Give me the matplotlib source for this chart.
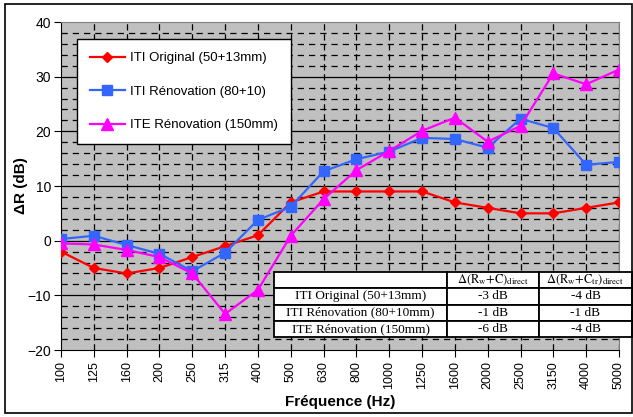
import matplotlib.pyplot as plt
import numpy as np
from matplotlib.patches import Rectangle
from matplotlib.lines import Line2D

plt.rcParams["font.family"] = ["Liberation Sans", "DejaVu Sans"]
plt.rcParams["mathtext.fontset"] = "stix"

freqs = ["100", "125", "160", "200", "250", "315", "400", "500", "630", "800",
         "1000", "1250", "1600", "2000", "2500", "3150", "4000", "5000"]
iti_original = [-2, -5, -6, -5, -3, -1, 1, 7, 9, 9, 9, 9, 7, 6, 5, 5, 6, 7]
iti_renovation = [0.3, 0.9, -0.8, -2.4, -5.6, -2.2, 3.8, 6.2, 12.7, 14.9,
                  16.3, 18.8, 18.6, 17.0, 22.3, 20.6, 13.9, 14.4]
ite_renovation = [-0.5, -0.7, -1.7, -3.0, -6.0, -13.4, -9.0, 0.9, 7.6, 12.9,
                  16.4, 20.1, 22.5, 18.1, 21.0, 30.6, 28.6, 31.3]
series_labels = ["ITI Original (50+13mm)", "ITI Rénovation (80+10)", "ITE Rénovation (150mm)"]

table_rows = ["ITI Original (50+13mm)", "ITI Rénovation (80+10mm)", "ITE Rénovation (150mm)"]
table_cols = [r"$\Delta(\mathrm{R_w{+}C})_{\mathrm{direct}}$",
              r"$\Delta(\mathrm{R_w{+}C_{tr}})_{\mathrm{direct}}$"]
table_vals = [["-3 dB", "-4 dB"], ["-1 dB", "-1 dB"], ["-6 dB", "-4 dB"]]

W, H = 633, 417
fig = plt.figure(figsize=(W / 100, H / 100), dpi=100, facecolor="white")
L, R, T, B = 61, 619, 22, 350
ax = fig.add_axes([L / W, 1 - B / H, (R - L) / W, (B - T) / H])
ax.set_facecolor("#C0C0C0")

x = np.arange(len(freqs))

# grid: dashed minor every 2 dB + per category, solid at majors
for yv in np.arange(-18, 40, 2):
    if yv % 10 == 0:
        ax.axhline(yv, color="black", lw=0.9, zorder=1)
    else:
        ax.axhline(yv, color="black", lw=0.9, ls=(0, (5, 4)), zorder=1)
for xv in x[1:]:
    ax.axvline(xv, color="black", lw=0.9, ls=(0, (5, 3)), zorder=1)

ax.plot(x, iti_original, color="#FF0000", lw=1.6, marker="D", ms=5.5, zorder=3)
ax.plot(x, iti_renovation, color="#3366FF", lw=1.6, marker="s", ms=7.5, zorder=3)
ax.plot(x, ite_renovation, color="#FF00FF", lw=1.6, marker="^", ms=8, zorder=4)

ax.set_xlim(0, len(freqs) - 1)
ax.set_ylim(-20, 40)
ax.set_xticks(x, freqs, rotation=90, fontsize=9)
ax.set_yticks(np.arange(-20, 41, 10))
ax.tick_params(axis="y", labelsize=10, length=5, direction="out", pad=2)
ax.tick_params(axis="x", length=5, direction="out", pad=3)
for s in ["top", "right"]:
    ax.spines[s].set_color("#808080")
for s in ["left", "bottom"]:
    ax.spines[s].set_color("black")

ax.set_ylabel("ΔR (dB)", fontsize=11, fontweight="bold", labelpad=0)
ax.set_xlabel("Fréquence (Hz)", fontsize=11, fontweight="bold", labelpad=4)

# legend
handles = [
    Line2D([], [], color="#FF0000", lw=1.6, marker="D", ms=5.5),
    Line2D([], [], color="#3366FF", lw=1.6, marker="s", ms=7.5),
    Line2D([], [], color="#FF00FF", lw=1.6, marker="^", ms=8),
]
leg = ax.legend(handles, series_labels, loc="upper left",
                bbox_to_anchor=((77 - L) / (R - L), 1 - (39 - T) / (B - T)),
                fontsize=9.5, frameon=True, fancybox=False, edgecolor="black",
                framealpha=1, labelspacing=1.6, handlelength=2.6,
                borderpad=1.0, borderaxespad=0, handletextpad=0.4)
leg.get_frame().set_linewidth(1.0)
leg.set_zorder(6)

# table
tx0, tx1 = 274, 632
ty0, ty1 = 272, 337
tb = ax.table(cellText=[["", *table_cols]] + [[r, *v] for r, v in zip(table_rows, table_vals)],
              cellLoc="center",
              colWidths=[173, 92, 93],
              bbox=[(tx0 - L) / (R - L), (B - ty1) / (B - T),
                    (tx1 - tx0) / (R - L), (ty1 - ty0) / (B - T)])
tb.auto_set_font_size(False)
for (r, c), cell in tb.get_celld().items():
    cell.set_linewidth(1.3)
    cell.set_edgecolor("black")
    cell.set_facecolor("white")
    cell.get_text().set_fontfamily(["Liberation Serif", "DejaVu Serif"])
    cell.get_text().set_fontsize(9.5 if r > 0 else 9)
tb.set_zorder(7)
tb.set_clip_on(False)

# outer frame
fig.patches.append(Rectangle((5 / W, 1 - 413 / H), 627 / W, 409 / H,
                             transform=fig.transFigure, fill=False,
                             edgecolor="black", lw=1.2))

fig.savefig("out.png", dpi=100)
